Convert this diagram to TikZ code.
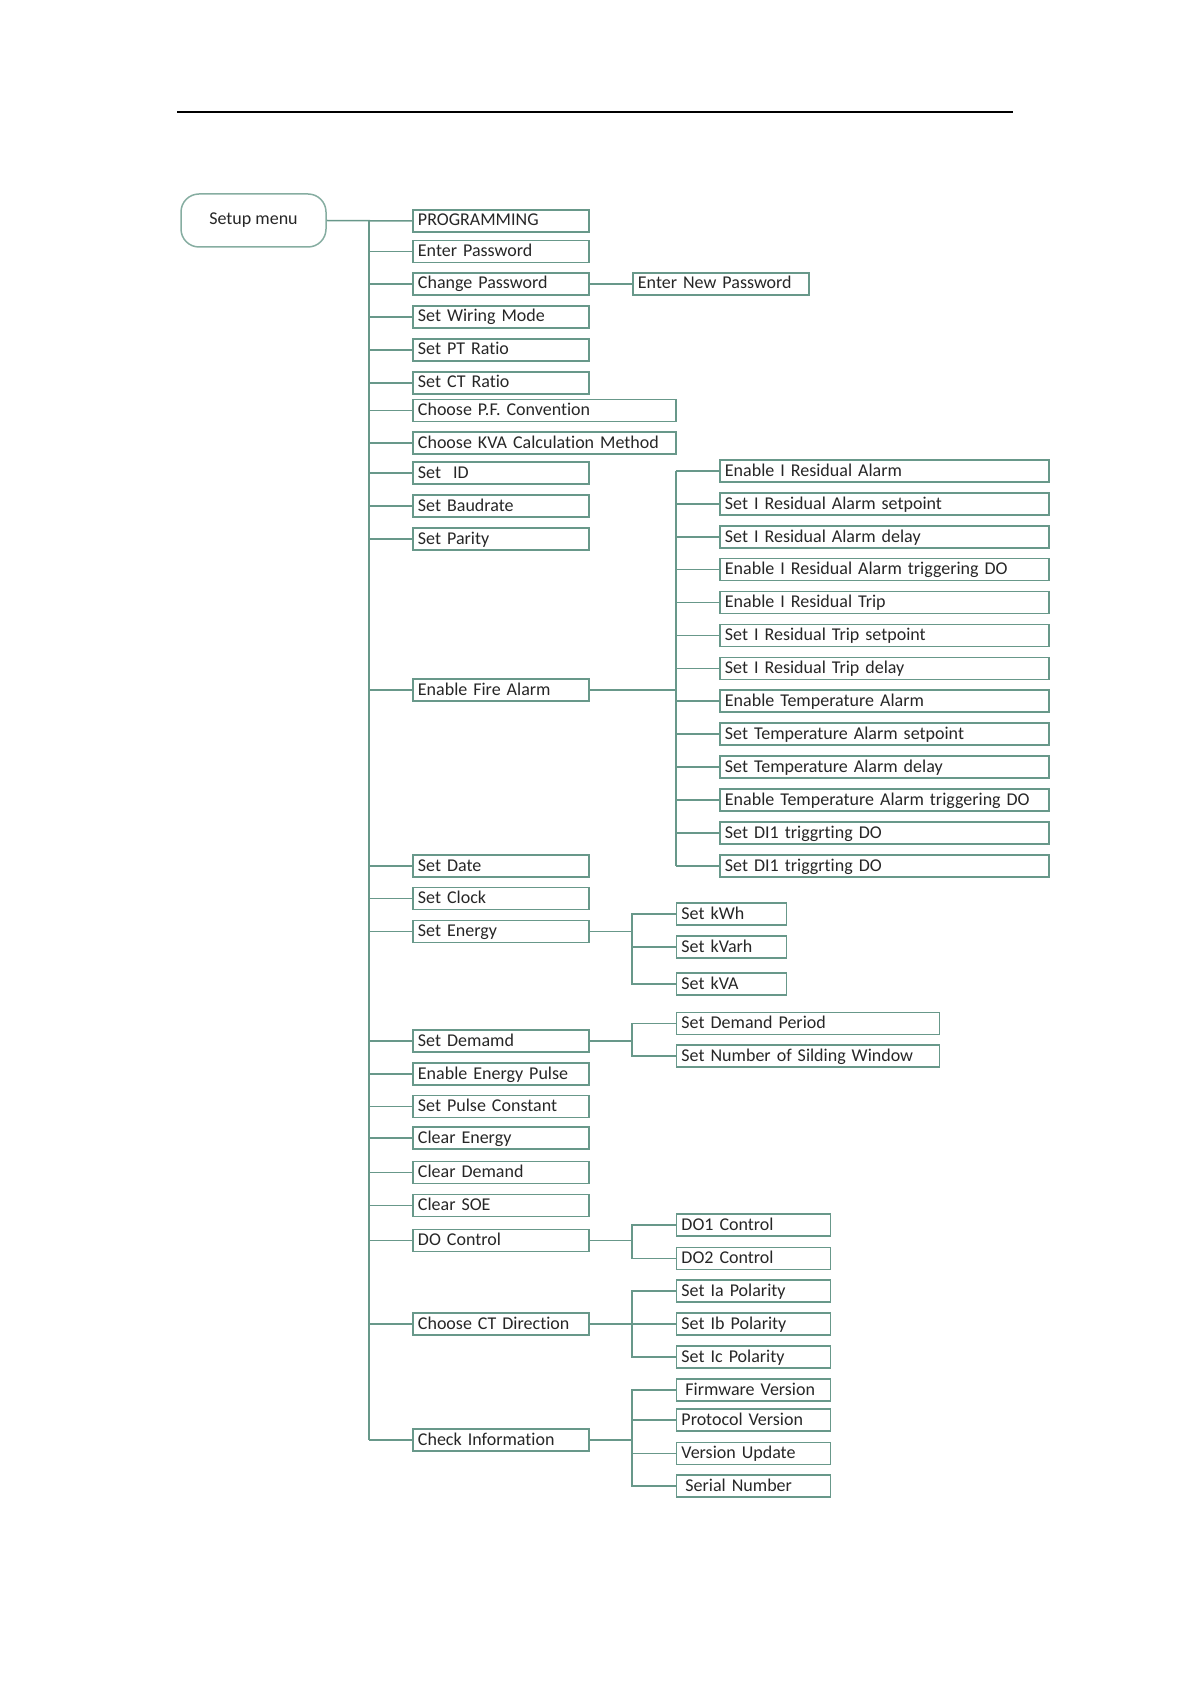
\documentclass[tikz,border=0pt]{standalone}
\usepackage{fontspec}
\setmainfont{Carlito}[Ligatures={NoCommon}]
\usepackage{xcolor}
\usepackage{tikz}
\usetikzlibrary{positioning, calc}

\definecolor{menuline}{RGB}{104,152,138}
\definecolor{menutext}{RGB}{38,38,38}

\begin{document}
\begin{tikzpicture}[
        x=0.5pt, y=-0.5pt,
        item/.style={rectangle, draw=menuline, line width=0.75pt, anchor=west, inner xsep=2.6pt, inner ysep=1pt,
            text height=7pt, text depth=2pt, align=left, font=\fontsize{9}{11}\selectfont, text=menutext},
        lvl/.style={item, text width=82.8pt},
        lvlwide/.style={item, text width=126.3pt},
        firesub/.style={item, text width=159.3pt},
        shortsub/.style={item, text width=49.8pt},
        midsub/.style={item, text width=71.8pt},
        root/.style={rectangle, draw=menuline!80, line width=0.75pt, rounded corners=9pt, minimum width=72.5pt,
            minimum height=26.5pt, font=\fontsize{9}{11}\selectfont, text=menutext},
        link/.style={draw=menuline, line width=0.75pt},
        rule/.style={draw=black, line width=0.6pt},
    ]
    \useasboundingbox (0,0) rectangle (1191,1684);

    % === PAGE RULE ===
    \coordinate (ruleL) at (177,112);
    \coordinate (ruleR) at (1013,112);
    \draw[rule] (ruleL) -- (ruleR);

    % === ROOT ===
    \node[root] (setup) at (253.5,220.5) {Setup menu};

    % === LEVEL 1 ===
    \node[lvl] (prog) at (412,221) {PROGRAMMING};
    \node[lvl] (enterpw) at (412,251.5) {Enter Password};
    \node[lvl] (changepw) at (412,284) {Change Password};
    \node[lvl] (wiring) at (412,317) {Set Wiring Mode};
    \node[lvl] (pt) at (412,350) {Set PT Ratio};
    \node[lvl] (ct) at (412,383) {Set CT Ratio};
    \node[lvlwide] (pf) at (412,410.5) {Choose P.F. Convention};
    \node[lvlwide] (kva) at (412,443) {Choose KVA Calculation Method};
    \node[lvl] (id) at (412,473) {Set\ \ ID};
    \node[lvl] (baud) at (412,506) {Set Baudrate};
    \node[lvl] (parity) at (412,539) {Set Parity};
    \node[lvl] (fire) at (412,690) {Enable Fire Alarm};
    \node[lvl] (date) at (412,866) {Set Date};
    \node[lvl] (clock) at (412,898.5) {Set Clock};
    \node[lvl] (energy) at (412,931.5) {Set Energy};
    \node[lvl] (demand) at (412,1041) {Set Demamd};
    \node[lvl] (pulse) at (412,1074) {Enable Energy Pulse};
    \node[lvl] (pconst) at (412,1106.5) {Set Pulse Constant};
    \node[lvl] (clrenergy) at (412,1138) {Clear Energy};
    \node[lvl] (clrdemand) at (412,1172.5) {Clear Demand};
    \node[lvl] (clrsoe) at (412,1205.5) {Clear SOE};
    \node[lvl] (docontrol) at (412,1240.5) {DO Control};
    \node[lvl] (ctdir) at (412,1324) {Choose CT Direction};
    \node[lvl] (info) at (412,1440) {Check Information};

    % === LEVEL 2 ===
    \node[lvl] (newpw) at (632,284) {Enter New Password};

    % Fire alarm items
    \node[firesub] (fa1) at (719,471) {Enable I Residual Alarm};
    \node[firesub] (fa2) at (719,504) {Set I Residual Alarm setpoint};
    \node[firesub] (fa3) at (719,537) {Set I Residual Alarm delay};
    \node[firesub] (fa4) at (719,569.5) {Enable I Residual Alarm triggering DO};
    \node[firesub] (fa5) at (719,602.5) {Enable I Residual Trip};
    \node[firesub] (fa6) at (719,635.5) {Set I Residual Trip setpoint};
    \node[firesub] (fa7) at (719,668.5) {Set I Residual Trip delay};
    \node[firesub] (fa8) at (719,701) {Enable Temperature Alarm};
    \node[firesub] (fa9) at (719,734) {Set Temperature Alarm setpoint};
    \node[firesub] (fa10) at (719,767) {Set Temperature Alarm delay};
    \node[firesub] (fa11) at (719,800) {Enable Temperature Alarm triggering DO};
    \node[firesub] (fa12) at (719,833) {Set DI1 triggrting DO};
    \node[firesub] (fa13) at (719,866) {Set DI1 triggrting DO};

    % Energy items
    \node[shortsub] (kwh) at (675.5,914) {Set kWh};
    \node[shortsub] (kvarh) at (675.5,947) {Set kVarh};
    \node[shortsub] (kvah) at (675.5,984) {Set kVA};

    % Demand items
    \node[lvlwide] (period) at (675.5,1023.5) {Set Demand Period};
    \node[lvlwide] (window) at (675.5,1056) {Set Number of Silding Window};

    % DO items
    \node[midsub] (do1) at (675.5,1225) {DO1 Control};
    \node[midsub] (do2) at (675.5,1258.5) {DO2 Control};

    % CT direction items
    \node[midsub] (ia) at (675.5,1291) {Set Ia Polarity};
    \node[midsub] (ib) at (675.5,1324) {Set Ib Polarity};
    \node[midsub] (ic) at (675.5,1357) {Set Ic Polarity};

    % Info items
    \node[midsub] (fw) at (675.5,1390) {\hspace*{2pt}Firmware Version};
    \node[midsub] (proto) at (675.5,1420) {Protocol Version};
    \node[midsub] (update) at (675.5,1453.5) {Version Update};
    \node[midsub] (serial) at (675.5,1486) {\hspace*{2pt}Serial Number};

    % === BUS POINTS ===
    \coordinate (trunk) at (369,221);
    \coordinate (firebus) at (676,690);
    \coordinate (energybus) at (632,931.5);
    \coordinate (demandbus) at (632,1041);
    \coordinate (dobus) at (632,1240.5);
    \coordinate (ctbus) at (632,1324);
    \coordinate (infobus) at (632,1440);

    % === CONNECTORS ===
    \draw[link] (setup.east) -- (prog.west);
    \draw[link] (trunk) -- (info.west -| trunk);
    \draw[link] (enterpw.west) -- (enterpw.west -| trunk);
    \draw[link] (changepw.west) -- (changepw.west -| trunk);
    \draw[link] (wiring.west) -- (wiring.west -| trunk);
    \draw[link] (pt.west) -- (pt.west -| trunk);
    \draw[link] (ct.west) -- (ct.west -| trunk);
    \draw[link] (pf.west) -- (pf.west -| trunk);
    \draw[link] (kva.west) -- (kva.west -| trunk);
    \draw[link] (id.west) -- (id.west -| trunk);
    \draw[link] (baud.west) -- (baud.west -| trunk);
    \draw[link] (parity.west) -- (parity.west -| trunk);
    \draw[link] (fire.west) -- (fire.west -| trunk);
    \draw[link] (date.west) -- (date.west -| trunk);
    \draw[link] (clock.west) -- (clock.west -| trunk);
    \draw[link] (energy.west) -- (energy.west -| trunk);
    \draw[link] (demand.west) -- (demand.west -| trunk);
    \draw[link] (pulse.west) -- (pulse.west -| trunk);
    \draw[link] (pconst.west) -- (pconst.west -| trunk);
    \draw[link] (clrenergy.west) -- (clrenergy.west -| trunk);
    \draw[link] (clrdemand.west) -- (clrdemand.west -| trunk);
    \draw[link] (clrsoe.west) -- (clrsoe.west -| trunk);
    \draw[link] (docontrol.west) -- (docontrol.west -| trunk);
    \draw[link] (ctdir.west) -- (ctdir.west -| trunk);
    \draw[link] (info.west) -- (info.west -| trunk);

    % Password
    \draw[link] (changepw.east) -- (newpw.west);

    % Fire alarm
    \draw[link] (fire.east) -- (firebus);
    \draw[link] (fa1.west -| firebus) -- (fa13.west -| firebus);
    \draw[link] (fa1.west) -- (fa1.west -| firebus);
    \draw[link] (fa2.west) -- (fa2.west -| firebus);
    \draw[link] (fa3.west) -- (fa3.west -| firebus);
    \draw[link] (fa4.west) -- (fa4.west -| firebus);
    \draw[link] (fa5.west) -- (fa5.west -| firebus);
    \draw[link] (fa6.west) -- (fa6.west -| firebus);
    \draw[link] (fa7.west) -- (fa7.west -| firebus);
    \draw[link] (fa8.west) -- (fa8.west -| firebus);
    \draw[link] (fa9.west) -- (fa9.west -| firebus);
    \draw[link] (fa10.west) -- (fa10.west -| firebus);
    \draw[link] (fa11.west) -- (fa11.west -| firebus);
    \draw[link] (fa12.west) -- (fa12.west -| firebus);
    \draw[link] (fa13.west) -- (fa13.west -| firebus);

    % Energy
    \draw[link] (energy.east) -- (energybus);
    \draw[link] (kwh.west) -| (energybus) |- (kvah.west);
    \draw[link] (kvarh.west) -- (kvarh.west -| energybus);

    % Demand
    \draw[link] (demand.east) -- (demandbus);
    \draw[link] (period.west) -| (demandbus) |- (window.west);

    % DO
    \draw[link] (docontrol.east) -- (dobus);
    \draw[link] (do1.west) -| (dobus) |- (do2.west);

    % CT direction
    \draw[link] (ctdir.east) -- (ib.west);
    \draw[link] (ia.west) -| (ctbus) |- (ic.west);

    % Info
    \draw[link] (info.east) -- (infobus);
    \draw[link] (fw.west) -| (infobus) |- (serial.west);
    \draw[link] (proto.west) -- (proto.west -| infobus);
    \draw[link] (update.west) -- (update.west -| infobus);

    \end{tikzpicture}
\end{document}
